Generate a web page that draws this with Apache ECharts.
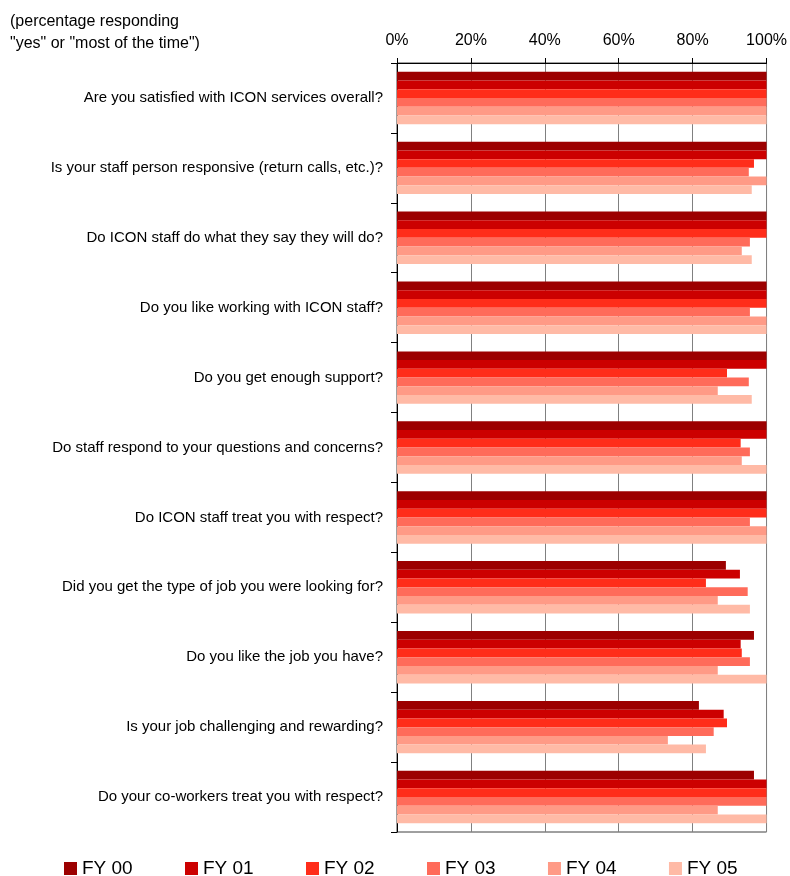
<!DOCTYPE html>
<html>
<head>
<meta charset="utf-8">
<script src="https://cdn.jsdelivr.net/npm/echarts@6/dist/echarts.min.js"></script>
<style>
html,body{margin:0;padding:0;background:#fff;}
#main{width:790px;height:876px;}
</style>
</head>
<body>
<div id="main"></div>
<script>
const categories = [
  "Are you satisfied with ICON services overall?",
  "Is your staff person responsive (return calls, etc.)?",
  "Do ICON staff do what they say they will do?",
  "Do you like working with ICON staff?",
  "Do you get enough support?",
  "Do staff respond to your questions and concerns?",
  "Do ICON staff treat you with respect?",
  "Did you get the type of job you were looking for?",
  "Do you like the job you have?",
  "Is your job challenging and rewarding?",
  "Do your co-workers treat you with respect?"
];
const seriesNames = ["FY 00", "FY 01", "FY 02", "FY 03", "FY 04", "FY 05"];
const fy00 = [100, 100, 100, 100, 100, 100, 100, 89.0, 96.6, 81.7, 96.6];
const fy01 = [100, 100, 100, 100, 100, 100, 100, 92.8, 93.0, 88.4, 100];
const fy02 = [100, 96.6, 100, 100, 89.3, 93.0, 100, 83.6, 93.3, 89.3, 100];
const fy03 = [100, 95.2, 95.5, 95.5, 95.2, 95.5, 95.5, 94.9, 95.5, 85.7, 100];
const fy04 = [100, 100, 93.3, 100, 86.8, 93.3, 100, 86.8, 86.8, 73.3, 86.8];
const fy05 = [100, 96.0, 96.0, 100, 96.0, 100, 100, 95.5, 100, 83.6, 100];
const xTicks = [0, 20, 40, 60, 80, 100];
const colors = ["#9c0000", "#cc0000", "#ff2d1a", "#ff6b5a", "#ff9a86", "#ffbaa6"];

const values = [fy00, fy01, fy02, fy03, fy04, fy05];
const FONT = "'Liberation Sans', Arial, sans-serif";

const chart = echarts.init(document.getElementById('main'), null, {renderer: 'canvas'});
chart.setOption({
  animation: false,
  backgroundColor: '#fff',
  textStyle: {fontFamily: FONT},
  title: {
    text: '(percentage responding\n"yes" or "most of the time")',
    left: 5, top: 6,
    textStyle: {fontFamily: FONT, fontSize: 16, fontWeight: 'normal', color: '#000', lineHeight: 22}
  },
  legend: {
    data: seriesNames,
    left: 59, top: 854,
    icon: 'rect', itemWidth: 13, itemHeight: 13, itemGap: 52.3,
    textStyle: {fontFamily: FONT, fontSize: 19, color: '#000'}
  },
  grid: {
    left: 397, right: 23, top: 63, bottom: 44,
    show: true, borderColor: '#404040', borderWidth: 1, backgroundColor: 'transparent'
  },
  xAxis: {
    type: 'value', position: 'top',
    min: xTicks[0], max: xTicks[xTicks.length - 1], interval: 20,
    axisLine: {show: true, lineStyle: {color: '#000', width: 1}},
    axisTick: {show: true, length: 5, lineStyle: {color: '#000'}},
    axisLabel: {formatter: '{value}%', fontSize: 16, color: '#000', margin: 14, fontFamily: FONT},
    splitLine: {show: true, lineStyle: {color: '#808080', width: 1}}
  },
  yAxis: {
    type: 'category', data: categories, inverse: true,
    axisLine: {show: true, lineStyle: {color: '#000', width: 1}},
    axisTick: {show: true, length: 6, lineStyle: {color: '#000'}},
    axisLabel: {fontSize: 15, color: '#000', margin: 14, fontFamily: FONT},
    splitLine: {show: false}
  },
  series: seriesNames.map((name, i) => ({
    name: name, type: 'bar', data: values[i],
    itemStyle: {color: colors[i]},
    barGap: '0%', barCategoryGap: '25%'
  }))
});
</script>
</body>
</html>
